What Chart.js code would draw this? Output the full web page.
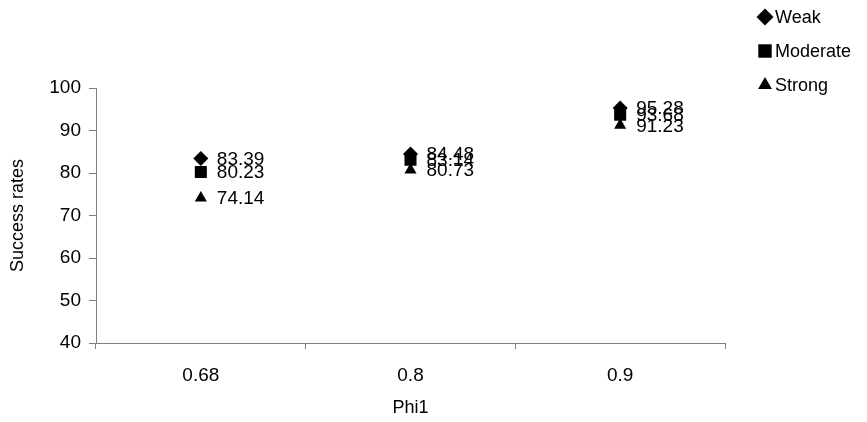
<!DOCTYPE html>
<html>
<head>
<meta charset="utf-8">
<script src="https://cdn.jsdelivr.net/npm/chart.js@4"></script>
<style>
  body { margin: 0; background: #fff; }
  #wrap { width: 867px; height: 422px; }
</style>
</head>
<body>
<div id="wrap"><canvas id="scatterChart" width="867" height="422"></canvas></div>
<script>
var categories = ['0.68', '0.8', '0.9'];
var seriesNames = ['Weak', 'Moderate', 'Strong'];
var weak = [83.39, 84.48, 95.28];
var moderate = [80.23, 83.14, 93.68];
var strong = [74.14, 80.73, 91.23];
var yTicks = [40, 50, 60, 70, 80, 90, 100];

var FONT = 'Liberation Sans, Arial, sans-serif';
var markerSizes = { rectRot: [7.5, 8.5], rect: [8.5, 9.5], triangle: [7, 8] }; // [plot, legend]

// values next to each marker
var valueLabels = {
    id: 'valueLabels',
    afterDatasetsDraw: function (chart) {
        var ctx = chart.ctx;
        ctx.save();
        ctx.font = '19px ' + FONT;
        ctx.fillStyle = '#000';
        ctx.textBaseline = 'middle';
        ctx.textAlign = 'left';
        chart.data.datasets.forEach(function (ds, i) {
            chart.getDatasetMeta(i).data.forEach(function (pt, j) {
                ctx.fillText(ds.data[j].toFixed(2), pt.x + 16, pt.y + 1);
            });
        });
        ctx.restore();
    }
};

// legend in the top right corner
var sideLegend = {
    id: 'sideLegend',
    afterDraw: function (chart) {
        var ctx = chart.ctx;
        ctx.save();
        ctx.font = '18px ' + FONT;
        ctx.fillStyle = '#000';
        ctx.textBaseline = 'middle';
        chart.data.datasets.forEach(function (ds, i) {
            var y = 17 + i * 34;
            Chart.helpers.drawPoint(ctx, {
                pointStyle: ds.pointStyle,
                radius: markerSizes[ds.pointStyle][1],
                borderWidth: 0
            }, 765, y);
            ctx.fillText(ds.label, 775, y + 1);
        });
        ctx.restore();
    }
};

var ctx = document.getElementById('scatterChart').getContext('2d');
var chart = new Chart(ctx, {
    type: 'line',
    data: {
        labels: categories,
        datasets: [
            { label: seriesNames[0], data: weak, pointStyle: 'rectRot' },
            { label: seriesNames[1], data: moderate, pointStyle: 'rect' },
            { label: seriesNames[2], data: strong, pointStyle: 'triangle' }
        ].map(function (d) {
            d.showLine = false;
            d.backgroundColor = '#000';
            d.borderColor = '#000';
            d.borderWidth = 0;
            d.pointBackgroundColor = '#000';
            d.pointRadius = markerSizes[d.pointStyle][0];
            d.pointHoverRadius = d.pointRadius;
            return d;
        })
    },
    options: {
        responsive: false,
        animation: false,
        layout: { padding: { left: 4, right: 142, top: 88, bottom: 0 } },
        plugins: {
            legend: { display: false },
            tooltip: { enabled: false }
        },
        scales: {
            x: {
                offset: true,
                afterFit: function (axis) { axis.height = 79; },
                grid: { display: true, offset: true, drawOnChartArea: false, tickLength: 6, color: '#808080' },
                border: { color: '#808080' },
                ticks: { color: '#000', font: { family: FONT, size: 19 }, padding: 15 },
                title: { display: true, text: 'Phi1', color: '#000', font: { family: FONT, size: 18 }, padding: { top: 4, bottom: 3 } }
            },
            y: {
                min: 40,
                max: 100,
                afterFit: function (axis) { axis.width = 92; },
                afterBuildTicks: function (axis) {
                    axis.ticks = yTicks.map(function (v) { return { value: v }; });
                },
                grid: { drawOnChartArea: false, tickLength: 7, color: '#808080' },
                border: { color: '#808080' },
                ticks: { color: '#000', font: { family: FONT, size: 19 }, padding: 8 },
                title: { display: true, text: 'Success rates', color: '#000', font: { family: FONT, size: 18 }, padding: { top: 3, bottom: 6 } }
            }
        }
    },
    plugins: [valueLabels, sideLegend]
});
</script>
</body>
</html>
